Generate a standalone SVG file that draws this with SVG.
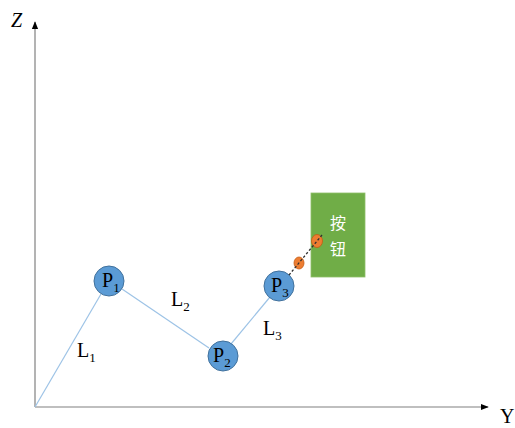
<svg xmlns="http://www.w3.org/2000/svg" width="515" height="428" viewBox="0 0 515 428">
<style>
.t{font-family:"Liberation Serif","Times New Roman",serif;fill:#000;font-size:20px}
.s{font-size:13px}
.node{fill:#5b9bd5;stroke:#41719c;stroke-width:1}
.link{stroke:#9dc3e6;stroke-width:1.2;fill:none}
.axis{stroke:#808080;stroke-width:1.2;fill:none}
.orn{fill:#ed7d31;stroke:#c55a11;stroke-width:0.8}
</style>
<defs>
<marker id="ah" viewBox="0 0 10 10" refX="9" refY="5" markerWidth="8" markerHeight="8" orient="auto" markerUnits="userSpaceOnUse">
<path d="M0,1 L10,5 L0,9 Z" fill="#000"/>
</marker>
</defs>
<rect width="515" height="428" fill="#fff"/>
<g id="axes">
<line class="axis" x1="35" y1="407" x2="35" y2="22" marker-end="url(#ah)"/>
<line class="axis" x1="35" y1="407" x2="488" y2="407" marker-end="url(#ah)"/>
<text class="t" x="11" y="27" font-style="italic" font-size="16">Z</text>
<text class="t" x="500" y="423" font-size="16">Y</text>
</g>
<g id="connectors">
<line class="link" x1="35" y1="407" x2="101" y2="294"/>
<line class="link" x1="122" y1="289" x2="209" y2="348"/>
<line class="link" x1="231" y1="344" x2="270" y2="297"/>
<text class="t" x="77" y="357">L<tspan class="s" dy="5">1</tspan></text>
<text class="t" x="171" y="306">L<tspan class="s" dy="5">2</tspan></text>
<text class="t" x="263" y="335">L<tspan class="s" dy="5">3</tspan></text>
</g>
<g id="P1">
<circle class="node" cx="109" cy="281" r="15"/>
<text class="t" x="102" y="287">P<tspan class="s" dy="5">1</tspan></text>
</g>
<g id="P2">
<circle class="node" cx="223" cy="356" r="15"/>
<text class="t" x="213" y="362">P<tspan class="s" dy="5">2</tspan></text>
</g>
<g id="P3">
<circle class="node" cx="279" cy="286" r="15"/>
<text class="t" x="271" y="292">P<tspan class="s" dy="5">3</tspan></text>
</g>
<g id="button">
<rect x="311" y="193" width="54" height="84" fill="#70ad47" stroke="#8fbf6a" stroke-width="0.8"/>
<text x="338" y="229" text-anchor="middle" font-family="'Noto Sans CJK SC',sans-serif" font-size="16" fill="#fff">按</text>
<text x="338" y="255" text-anchor="middle" font-family="'Noto Sans CJK SC',sans-serif" font-size="16" fill="#fff">钮</text>
</g>
<g id="e1">
<ellipse class="orn" cx="317" cy="241" rx="5.5" ry="6.5"/>
</g>
<g id="e2">
<ellipse class="orn" cx="299" cy="263" rx="5" ry="6"/>
</g>
<g id="link-dashed">
<line x1="289" y1="275" x2="322" y2="235" stroke="#303030" stroke-width="1.3" stroke-dasharray="2.5,2"/>
</g>
</svg>
